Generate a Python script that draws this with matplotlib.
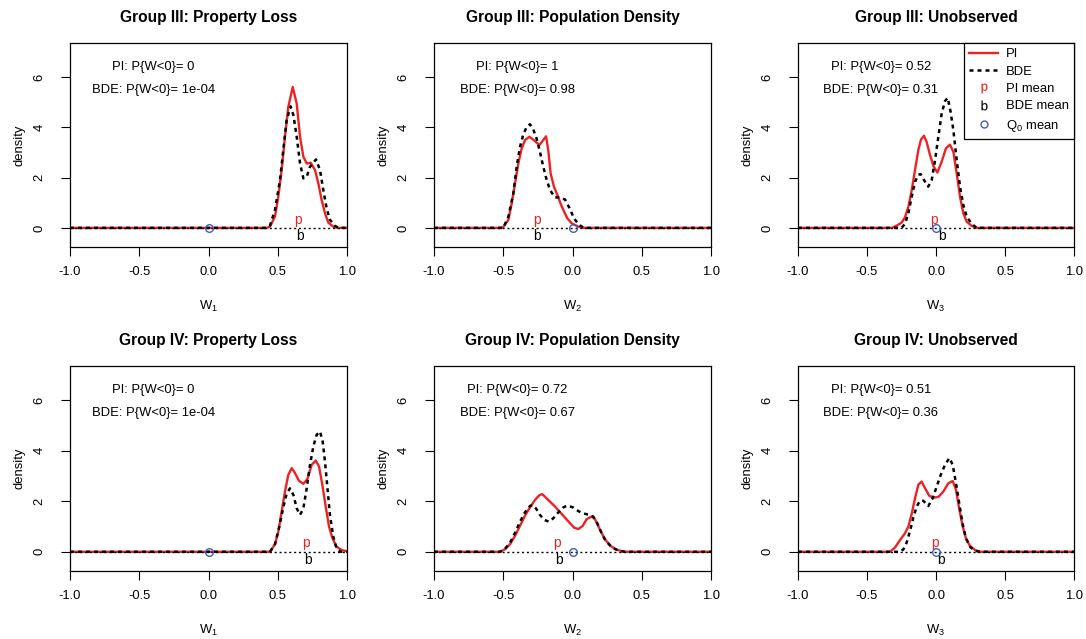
import matplotlib
matplotlib.use("Agg")

import matplotlib.pyplot as plt
from matplotlib.lines import Line2D

plt.rcParams["font.family"] = ["Liberation Sans", "DejaVu Sans"]
plt.rcParams["mathtext.fontset"] = "custom"
plt.rcParams["mathtext.rm"] = "Liberation Sans"
plt.rcParams["mathtext.default"] = "regular"
plt.rcParams["axes.unicode_minus"] = False

RED = "#ee2222"
BLUE = "#3f5fbf"

titles = ["Group III: Property Loss", "Group III: Population Density", "Group III: Unobserved",
          "Group IV: Property Loss", "Group IV: Population Density", "Group IV: Unobserved"]
xlabels = ["W$_1$", "W$_2$", "W$_3$", "W$_1$", "W$_2$", "W$_3$"]
pi_prob = ["0", "1", "0.52", "0", "0.72", "0.51"]
bde_prob = ["1e-04", "0.98", "0.31", "1e-04", "0.67", "0.36"]
pi_mean = [0.648, -0.259, -0.015, 0.704, -0.110, -0.007]
bde_mean = [0.661, -0.254, 0.041, 0.721, -0.095, 0.034]
q0_mean = [0, 0, 0, 0, 0, 0]

# density curves
pi_x_3a = [-1, 0.42, 0.444, 0.480, 0.504, 0.528, 0.552, 0.576, 0.608, 0.637, 0.661, 0.685, 0.709,
           0.738, 0.769, 0.793, 0.817, 0.841, 0.865, 0.901, 0.93, 1]
pi_y_3a = [0, 0, 0.05, 0.45, 1.24, 2.30, 3.62, 4.80, 5.60, 4.94, 3.62, 2.83, 2.56,
           2.59, 2.30, 1.77, 1.11, 0.58, 0.21, 0.05, 0, 0]
bde_x_3a = [-1, 0.42, 0.444, 0.480, 0.516, 0.540, 0.564, 0.593, 0.613, 0.637, 0.661, 0.685, 0.709,
            0.733, 0.776, 0.805, 0.829, 0.853, 0.877, 0.913, 0.94, 1]
bde_y_3a = [0, 0, 0.1, 0.71, 1.90, 3.09, 4.28, 4.83, 4.48, 3.62, 2.56, 1.97, 2.03,
            2.43, 2.72, 2.30, 1.50, 0.78, 0.32, 0.08, 0, 0]

pi_x_3b = [-1, -0.52, -0.500, -0.463, -0.439, -0.415, -0.391, -0.367, -0.343, -0.312, -0.283, -0.239,
           -0.191, -0.175, -0.158, -0.134, -0.109, -0.085, -0.061, -0.037, -0.006, 0.042, 0.08, 1]
pi_y_3b = [0, 0, 0.03, 0.32, 0.98, 1.77, 2.56, 3.16, 3.49, 3.62, 3.51, 3.29,
           3.64, 3.09, 2.17, 1.64, 1.31, 0.95, 0.65, 0.38, 0.18, 0.05, 0, 0]
bde_x_3b = [-1, -0.52, -0.500, -0.463, -0.427, -0.403, -0.379, -0.355, -0.331, -0.307, -0.283, -0.259,
            -0.235, -0.211, -0.186, -0.162, -0.126, -0.090, -0.054, -0.023, 0.011, 0.047, 0.083, 1]
bde_y_3b = [0, 0, 0, 0.45, 1.37, 2.43, 3.22, 3.72, 4.01, 4.12, 3.91, 3.55,
            3.02, 2.43, 1.90, 1.50, 1.21, 1.21, 1.13, 0.80, 0.38, 0.12, 0, 0]

pi_x_3c = [-1, -0.321, -0.285, -0.249, -0.225, -0.200, -0.176, -0.152, -0.128, -0.109, -0.087, -0.068,
           -0.043, -0.019, 0.010, 0.041, 0.072, 0.101, 0.126, 0.150, 0.174, 0.198, 0.222, 0.259, 0.295, 1]
pi_y_3c = [0, 0, 0.09, 0.21, 0.42, 0.84, 1.50, 2.30, 3.09, 3.51, 3.66, 3.42,
           2.89, 2.46, 2.20, 2.63, 3.16, 3.31, 3.02, 2.17, 1.24, 0.58, 0.25, 0.08, 0, 0]
bde_x_3c = [-1, -0.249, -0.225, -0.200, -0.176, -0.152, -0.128, -0.111, -0.087, -0.056, -0.031, -0.007,
            0.017, 0.041, 0.065, 0.085, 0.106, 0.126, 0.150, 0.174, 0.198, 0.222, 0.259, 0.295, 1]
bde_y_3c = [0, 0, 0.16, 0.58, 1.24, 1.83, 2.11, 2.14, 1.90, 1.64, 1.90, 2.69,
            3.62, 4.54, 5.04, 5.17, 4.61, 3.88, 2.69, 1.64, 0.91, 0.45, 0.16, 0, 0]

pi_x_4a = [-1, 0.42, 0.444, 0.480, 0.504, 0.528, 0.552, 0.576, 0.601, 0.625, 0.653, 0.685, 0.713,
           0.745, 0.774, 0.798, 0.822, 0.846, 0.870, 0.894, 0.925, 0.961, 1.0]
pi_y_4a = [0, 0, 0, 0.30, 0.79, 1.59, 2.38, 3.04, 3.31, 3.11, 2.81, 2.69, 2.87,
           3.44, 3.61, 3.37, 2.65, 1.80, 1.00, 0.55, 0.20, 0.07, 0.02]
bde_x_4a = [-1, 0.42, 0.444, 0.480, 0.511, 0.540, 0.564, 0.588, 0.613, 0.637, 0.661, 0.685, 0.709,
            0.733, 0.757, 0.781, 0.805, 0.824, 0.841, 0.858, 0.877, 0.901, 0.925, 0.954, 1]
bde_y_4a = [0, 0, 0, 0.30, 0.99, 1.76, 2.29, 2.51, 2.25, 1.72, 1.46, 1.72, 2.51,
            3.44, 4.17, 4.63, 4.76, 4.37, 3.57, 2.58, 1.45, 0.60, 0.12, 0, 0]

pi_x_4b = [-1, -0.55, -0.523, -0.487, -0.451, -0.415, -0.379, -0.343, -0.307, -0.271, -0.239, -0.219,
           -0.199, -0.162, -0.126, -0.090, -0.054, -0.018, 0.013, 0.042, 0.073, 0.102, 0.140, 0.162,
           0.186, 0.211, 0.242, 0.276, 0.314, 0.355, 0.39, 1]
pi_y_4b = [0, 0, 0, 0.10, 0.30, 0.63, 1.03, 1.43, 1.76, 2.05, 2.24, 2.28,
           2.18, 1.98, 1.79, 1.57, 1.35, 1.13, 0.95, 0.90, 1.02, 1.29, 1.40, 1.29,
           1.02, 0.73, 0.44, 0.23, 0.09, 0.03, 0, 0]
bde_x_4b = [-1, -0.55, -0.523, -0.487, -0.451, -0.415, -0.379, -0.343, -0.307, -0.288, -0.264, -0.235,
            -0.203, -0.170, -0.138, -0.102, -0.066, -0.035, 0.006, 0.042, 0.078, 0.114, 0.150, 0.179,
            0.203, 0.233, 0.271, 0.307, 0.343, 0.38, 1]
bde_y_4b = [0, 0, 0, 0.12, 0.36, 0.75, 1.19, 1.56, 1.81, 1.85, 1.72, 1.46,
            1.26, 1.19, 1.33, 1.56, 1.76, 1.83, 1.75, 1.61, 1.52, 1.47, 1.39, 1.13,
            0.83, 0.49, 0.25, 0.11, 0.03, 0, 0]

pi_x_4c = [-1, -0.333, -0.297, -0.261, -0.225, -0.201, -0.176, -0.152, -0.128, -0.104, -0.080, -0.048,
           -0.014, 0.019, 0.053, 0.089, 0.121, 0.145, 0.169, 0.193, 0.217, 0.246, 0.283, 0.319, 1]
pi_y_4c = [0, 0, 0.17, 0.46, 0.73, 0.99, 1.50, 2.12, 2.65, 2.78, 2.52, 2.21,
           2.14, 2.18, 2.38, 2.71, 2.80, 2.45, 1.68, 1.02, 0.53, 0.23, 0.07, 0, 0]
bde_x_4c = [-1, -0.261, -0.237, -0.213, -0.188, -0.164, -0.140, -0.116, -0.092, -0.056, -0.024, 0.005,
            0.034, 0.065, 0.097, 0.121, 0.145, 0.169, 0.193, 0.217, 0.251, 0.290, 0.319, 1]
bde_y_4c = [0, 0, 0.09, 0.36, 0.83, 1.36, 1.79, 2.02, 2.02, 1.81, 2.12, 2.58,
            3.04, 3.44, 3.71, 3.44, 2.71, 1.89, 1.10, 0.53, 0.17, 0.03, 0, 0]

pi_curves = [(pi_x_3a, pi_y_3a), (pi_x_3b, pi_y_3b), (pi_x_3c, pi_y_3c),
             (pi_x_4a, pi_y_4a), (pi_x_4b, pi_y_4b), (pi_x_4c, pi_y_4c)]
bde_curves = [(bde_x_3a, bde_y_3a), (bde_x_3b, bde_y_3b), (bde_x_3c, bde_y_3c),
              (bde_x_4a, bde_y_4a), (bde_x_4b, bde_y_4b), (bde_x_4c, bde_y_4c)]

fig = plt.figure(figsize=(10.86, 6.39), dpi=100)
lefts = [70, 434, 798]
widths = [277, 277, 276]
tops = [43, 366]
heights = [204, 205]
W, H = 1086, 639

BDE_LS = (0, (1.6, 1.6))
FS = 9.4

for i in range(6):
    r, c = divmod(i, 3)
    ax = fig.add_axes([lefts[c] / W, 1 - (tops[r] + heights[r]) / H, widths[c] / W, heights[r] / H])
    px, py = pi_curves[i]
    bx, by = bde_curves[i]
    ax.plot(px, py, color=RED, lw=1.7, zorder=2)
    ax.plot(bx, by, color="black", lw=1.8, ls=BDE_LS, zorder=3)
    ax.axhline(0, color="black", lw=1.0, ls=(0, (1.5, 2)), zorder=3)
    ax.text(pi_mean[i], 0.33, "p", color=RED, ha="center", va="center", fontsize=10)
    ax.text(bde_mean[i], -0.33, "b", color="black", ha="center", va="center", fontsize=10)
    ax.plot(q0_mean[i], 0, "o", ms=5.5, mfc="none", mec=BLUE, mew=1.0, zorder=4)

    ax.text(-0.4, 6.4, f"PI: P{{W<0}}= {pi_prob[i]}", ha="center", va="center", fontsize=FS)
    ax.text(-0.4, 5.5, f"BDE: P{{W<0}}= {bde_prob[i]}", ha="center", va="center", fontsize=FS)

    ax.set_xlim(-1, 1)
    ax.set_ylim(-0.76, 7.35)
    ax.set_xticks([-1.0, -0.5, 0.0, 0.5, 1.0])
    ax.set_xticklabels(["-1.0", "-0.5", "0.0", "0.5", "1.0"])
    ax.set_yticks([0, 2, 4, 6])
    ax.tick_params(axis="x", length=6.5, width=0.8, labelsize=FS, pad=7)
    ax.tick_params(axis="y", length=6.5, width=0.8, labelsize=FS, pad=11)
    for lab in ax.get_yticklabels():
        lab.set_rotation(90)
        lab.set_va("center")
    ax.set_title(titles[i], fontsize=11.2, fontweight="bold", pad=15)
    ax.set_xlabel(xlabels[i], fontsize=FS, labelpad=15)
    ax.set_ylabel("density", fontsize=FS, labelpad=6)
    for s in ax.spines.values():
        s.set_linewidth(0.9)

    if i == 2:
        handles = [
            Line2D([], [], color=RED, lw=1.7),
            Line2D([], [], color="black", lw=1.8, ls=BDE_LS),
            Line2D([], [], ls="none", marker="$p$", color=RED, ms=7, mew=0.1),
            Line2D([], [], ls="none", marker="$b$", color="black", ms=7, mew=0.1),
            Line2D([], [], ls="none", marker="o", mfc="none", mec=BLUE, ms=5),
        ]
        labels = ["PI", "BDE", "PI mean", "BDE mean", "Q$_0$ mean"]
        leg = ax.legend(handles, labels, loc="upper right", borderaxespad=0, fontsize=FS,
                        fancybox=False, framealpha=1, edgecolor="black", handlelength=2.2,
                        labelspacing=0.4, borderpad=0.4, handletextpad=0.6)
        leg.get_frame().set_linewidth(0.9)

fig.savefig("out.png", dpi=100)
